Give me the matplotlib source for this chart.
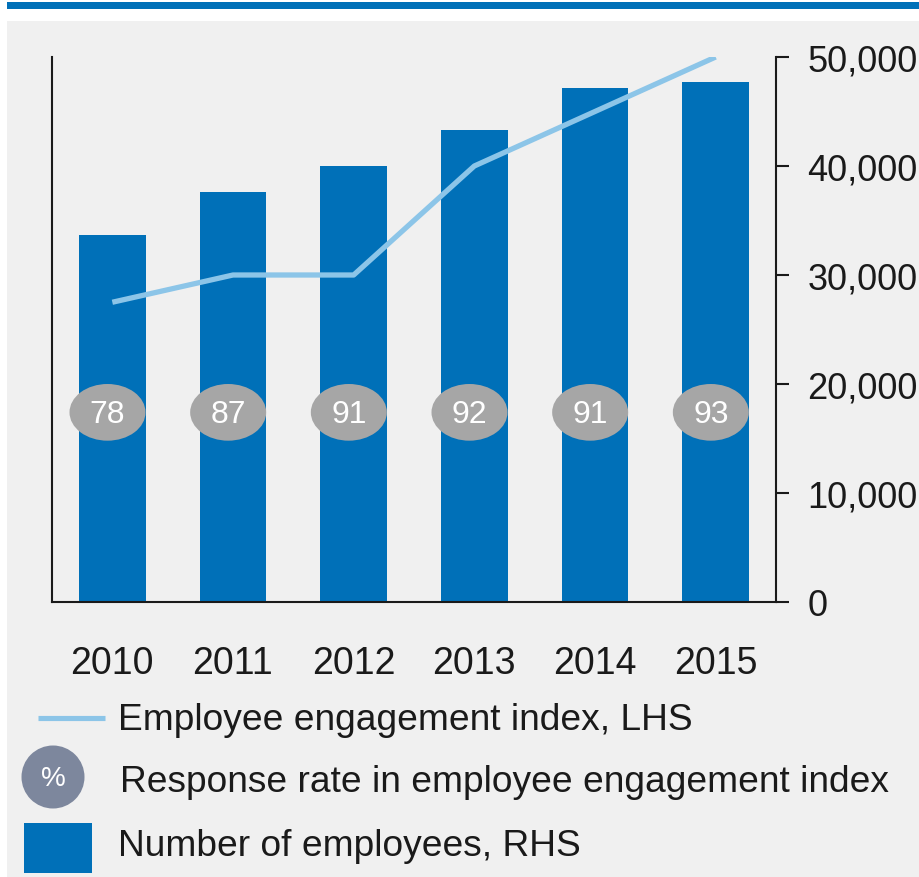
import numpy as np
import matplotlib
matplotlib.use("Agg")
import matplotlib.pyplot as plt
from matplotlib.patches import Ellipse, Rectangle
from matplotlib.ticker import FuncFormatter

plt.rcParams['font.family'] = ['Liberation Sans', 'DejaVu Sans']

# data
years = ["2010", "2011", "2012", "2013", "2014", "2015"]
employees = [33700, 37600, 40000, 43300, 47200, 47700]   # RHS
engagement = [55, 60, 60, 80, 90, 100]                    # LHS
response_rate = [78, 87, 91, 92, 91, 93]                  # %

BLUE = "#0070b8"
LIGHT_BLUE = "#8cc5e8"
BUBBLE = "#a6a6a6"
LEGEND_DOT = "#7d879d"
PANEL = "#f0f0f0"
TEXT = "#1a1a1a"

W, H = 920, 878
fig = plt.figure(figsize=(W / 100, H / 100), dpi=100, facecolor="white")

# backdrop in pixel units: grey panel, header band, legend
bg = fig.add_axes([0, 0, 1, 1])
bg.set_zorder(-1)
bg.set_xlim(0, W)
bg.set_ylim(H, 0)
bg.axis("off")
bg.add_patch(Rectangle((7, 22), W - 7, H - 22, color=PANEL, lw=0))
bg.add_patch(Rectangle((7, 3), W - 7, 7, color=BLUE, lw=0))

bg.plot([38, 105], [719, 719], color=LIGHT_BLUE, lw=3.7, solid_capstyle="butt")
bg.text(118, 721, "Employee engagement index, LHS", fontsize=26.7, color=TEXT, va="center")
bg.add_patch(Ellipse((53, 778), 63, 63, color=LEGEND_DOT, lw=0))
bg.text(53, 779, "%", fontsize=20, color="white", ha="center", va="center")
bg.text(120, 783, "Response rate in employee engagement index", fontsize=26.7, color=TEXT, va="center")
bg.add_patch(Rectangle((24, 824), 68, 50, color=BLUE, lw=0))
bg.text(118, 847, "Number of employees, RHS", fontsize=26.7, color=TEXT, va="center")

# main chart
ax = fig.add_axes([52 / W, 1 - 603 / H, (776 - 52) / W, (603 - 58) / H])
ax.set_facecolor("none")
ax_line = ax.twinx()

x = np.arange(len(years))
ax.bar(x, employees, width=0.555, color=BLUE, zorder=2)
ax.set_xlim(-0.5, 5.5)
ax.set_ylim(0, 50000)

# response rate bubbles
for xi, r in zip(x, response_rate):
    ax.add_patch(Ellipse((xi - 0.04, 17400), 0.63, 5200, color=BUBBLE, lw=0, zorder=3))
    ax.text(xi - 0.04, 17250, str(r), fontsize=23, color="white",
            ha="center", va="center", zorder=4)

ax.yaxis.tick_right()
ax.set_yticks(range(0, 50001, 10000))
ax.yaxis.set_major_formatter(FuncFormatter(lambda v, p: f"{int(v):,}"))
ax.tick_params(axis="y", direction="out", length=9.5, width=1.5, pad=13,
               labelsize=26, colors=TEXT, left=False, right=True)
ax.set_xticks(x)
ax.set_xticklabels(years)
ax.tick_params(axis="x", length=0, pad=31, labelsize=27, colors=TEXT)

for side in ["left", "right", "bottom"]:
    ax.spines[side].set_linewidth(1.5)
    ax.spines[side].set_color(TEXT)
ax.spines["top"].set_visible(False)

# engagement index line on hidden LHS scale
ax_line.plot(x, engagement, color=LIGHT_BLUE, lw=3.8, solid_capstyle="butt")
ax_line.set_ylim(0, 100)
ax_line.set_yticks([])
for s in ax_line.spines.values():
    s.set_visible(False)

fig.savefig("out.png", dpi=100)
